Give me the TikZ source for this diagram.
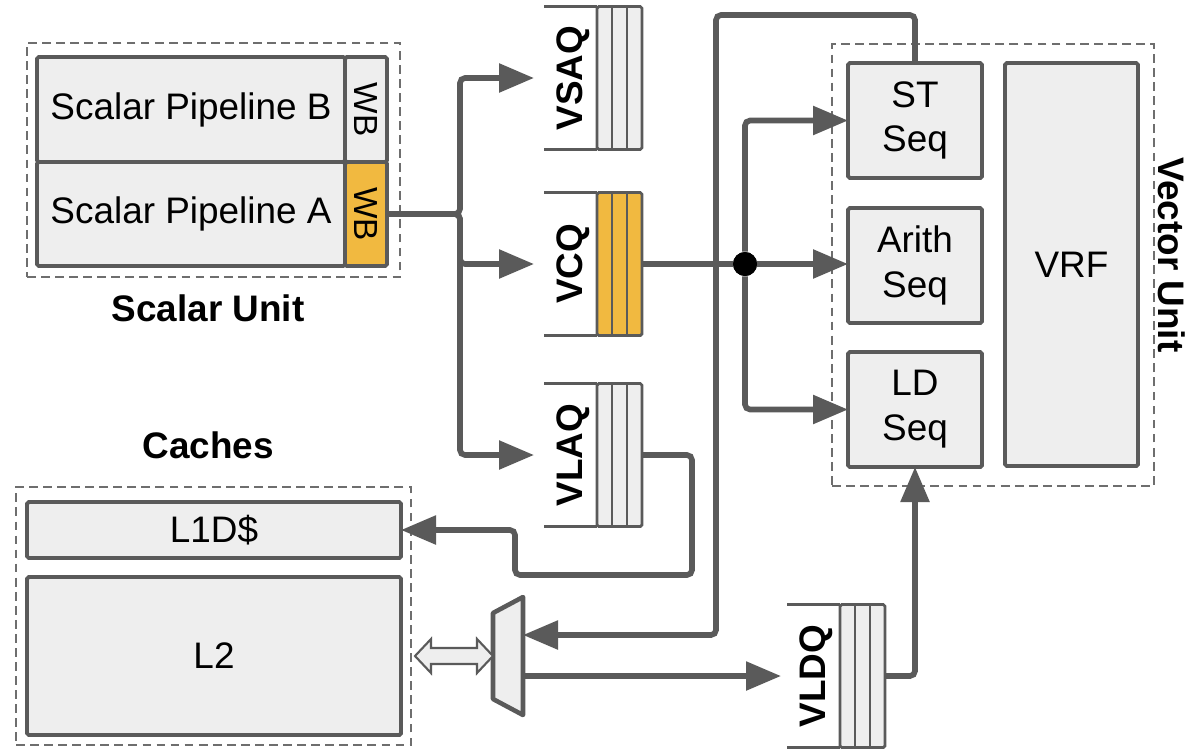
\documentclass[tikz,border=0pt]{standalone}
\usepackage{fontspec}
\setmainfont{Liberation Sans}
\usetikzlibrary{arrows.meta,calc}
\definecolor{linegray}{RGB}{90,90,90}
\definecolor{boxfill}{RGB}{238,238,238}
\definecolor{wborange}{RGB}{241,185,64}
\definecolor{dashgray}{RGB}{110,110,110}

\begin{document}
\begin{tikzpicture}[
		x=0.2mm, y=-0.2mm,
		blk/.style={
			draw=linegray,
			line width=2.2pt,
			fill=boxfill,
			rounded corners=1pt,
			anchor=north west,
			align=center,
			inner sep=0pt,
			outer sep=0pt,
			font=\fontsize{21}{25.5}\selectfont
		},
		unitbox/.style={
			draw=dashgray,
			dash pattern=on 5pt off 3pt,
			line width=0.9pt,
			anchor=north west,
			inner sep=0pt,
			outer sep=0pt
		},
		unitlabel/.style={
			font=\bfseries\fontsize{21}{25}\selectfont
		},
		qarea/.style={
			minimum width=19.6mm,
			minimum height=28.6mm,
			inner sep=0pt,
			outer sep=0pt
		},
		qcells/.style={
			draw=linegray,
			line width=1.6pt,
			rounded corners=1pt,
			anchor=north east,
			minimum width=9mm,
			minimum height=28.6mm,
			inner sep=0pt,
			outer sep=0pt
		},
		qline/.style={
			draw=linegray,
			line width=2.2pt
		},
		cellline/.style={
			draw=linegray,
			line width=1.2pt
		},
		qlabel/.style={
			rotate=90,
			font=\bfseries\fontsize{21}{25}\selectfont
		},
		wire/.style={
			draw=linegray,
			line width=3.2pt,
			rounded corners=1mm
		},
		arr/.style={
			wire,
			-{Triangle[length=7mm,width=5.6mm]}
		},
		dot/.style={
			circle,
			fill=black,
			minimum size=4.8mm,
			inner sep=0pt
		}
	]
	
	\useasboundingbox (0,0) rectangle (1200,750);
	
	% dashed unit outlines
	\node[unitbox, minimum width=74.6mm, minimum height=46.8mm] (scalarunit) at (27,43) {};
	\node[unitbox, minimum width=79mm, minimum height=51.6mm] (cacheunit) at (16,487) {};
	\node[unitbox, minimum width=64.4mm, minimum height=88.4mm] (vectorunit) at (832,44) {};
	
	\node[unitlabel] at (208,308) {Scalar Unit};
	\node[unitlabel] at (208,445) {Caches};
	\node[unitlabel, rotate=-90] at (1172,255) {Vector Unit};
	
	% scalar pipelines
	\node[blk, minimum width=61.6mm, minimum height=21mm] (pipeB) at (37,57) {Scalar Pipeline B};
	\node[blk, minimum width=8.4mm, minimum height=21mm] (wbB) at (pipeB.north east) {};
	\node[blk, minimum width=61.6mm, minimum height=20.8mm] (pipeA) at (pipeB.south west) {Scalar Pipeline A};
	\node[blk, fill=wborange, minimum width=8.4mm, minimum height=20.8mm] (wbA) at (pipeA.north east) {};
	\node[rotate=-90, font=\fontsize{19}{22}\selectfont] at (wbB) {WB};
	\node[rotate=-90, font=\fontsize{19}{22}\selectfont] at (wbA) {WB};
	
	% caches
	\node[blk, minimum width=74.8mm, minimum height=11.2mm] (l1d) at (27,502) {L1D\$};
	\node[blk, minimum width=74.8mm, minimum height=31.6mm] (l2) at (27,577) {L2};
	
	% vector unit
	\node[blk, minimum width=26.8mm, minimum height=23mm] (st) at (848,63) {ST\\Seq};
	\node[blk, minimum width=26.8mm, minimum height=23mm] (arith) at (848,208) {Arith\\Seq};
	\node[blk, minimum width=26.8mm, minimum height=23mm] (ld) at (848,352) {LD\\Seq};
	\node[blk, minimum width=26.6mm, minimum height=80.6mm] (vrf) at (1005,63) {VRF};
	
	% queues
	\foreach \nm/\cx/\cy/\lab/\clr in {vsaq/593/78/VSAQ/boxfill, vcq/593/264/VCQ/wborange, vlaq/593/455/VLAQ/boxfill, vldq/836/676/VLDQ/boxfill}{
		\node[qarea] (\nm) at (\cx,\cy) {};
		\node[qcells, fill=\clr] (\nm-c) at (\nm.north east) {};
		\foreach \i in {1,2}
			\draw[cellline] ([xshift=\i*3mm]\nm-c.north west) -- ([xshift=\i*3mm]\nm-c.south west);
		\draw[qline] (\nm.north west) -- (\nm-c.north west);
		\draw[qline] (\nm.south west) -- (\nm-c.south west);
		\node[qlabel] at ([xshift=-4.8mm]\nm-c.west) {\lab};
	}
	
	% mux
	\node[minimum width=6mm, minimum height=23.6mm, inner sep=0pt, outer sep=0pt] (mux) at (508,656) {};
	\draw[draw=linegray, fill=boxfill, line width=2.6pt, line join=round]
		(mux.north east) -- ($(mux.north west)+(0,16)$) -- ($(mux.south west)+(0,-16)$) -- (mux.south east) -- cycle;
	
	% L2 <-> mux
	\coordinate (dblL) at ($(l2.east)+(14,0)$);
	\coordinate (dblR) at (mux.west);
	\draw[draw=linegray, fill=boxfill, line width=1.2pt, line join=miter]
		(dblL) -- ++(16,-17) -- ++(0,9) -- ($(dblR)+(-16,-8)$) -- ++(0,-9) -- (dblR)
		-- ++(-16,17) -- ++(0,-9) -- ($(dblL)+(16,8)$) -- ++(0,9) -- cycle;
	
	% scalar -> queues
	\coordinate (bus) at (460,0);
	\draw[arr, shorten >=2mm] (wbA.east) -- (wbA.east -| bus) |- (vsaq.west);
	\draw[arr, shorten >=2mm] (wbA.east) -- (wbA.east -| bus) |- (vcq.west);
	\draw[arr, shorten >=2mm] (wbA.east) -- (wbA.east -| bus) |- (vlaq.west);
	
	% store data back to memory
	\coordinate (sttop) at (716,15);
	\draw[arr] (st.north) |- (sttop) |- ($(mux.east)+(0,-21)$);
	
	% command queue -> sequencers
	\node[dot] (split) at (745,264) {};
	\draw[wire] (vcq-c.east) -- (split);
	\draw[arr] (split) -- (split -| arith.west);
	\draw[arr] (split) |- (st.west);
	\draw[arr] (split) |- (ld.west);
	\node[dot] at (split) {};
	
	% load address queue -> L1D
	\draw[arr] (vlaq-c.east) -| (692,575) -| (515,530) -- (l1d.east);
	
	% load data path
	\draw[arr, shorten >=1.2mm] ($(mux.east)+(0,20)$) -- (vldq.west);
	\draw[arr] (vldq-c.east) -| (ld.south);
	
\end{tikzpicture}
\end{document}
